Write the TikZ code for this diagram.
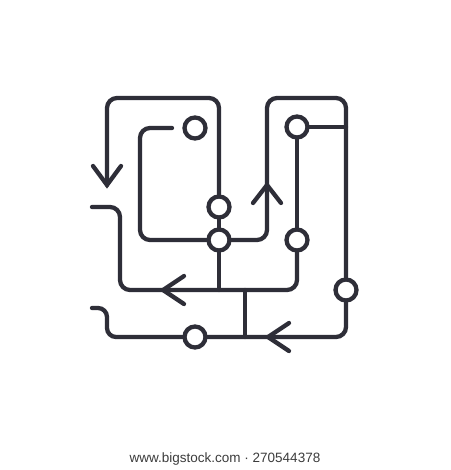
\documentclass[tikz,border=0pt]{standalone}
\usepackage{fontspec}
\newfontfamily\capfont{Liberation Sans}
\definecolor{ink}{RGB}{46,46,56}
\definecolor{captxt}{RGB}{60,60,60}
\begin{document}
\begin{tikzpicture}[x=1pt,y=-1pt,
  wire/.style={line width=4.3pt, draw=ink, line cap=round, line join=round, rounded corners=10pt},
  chev/.style={line width=4.3pt, draw=ink, line cap=round, line join=miter},
  dot/.style={circle, draw=ink, line width=4.3pt, minimum size=21pt, inner sep=0pt, fill=white}]
\useasboundingbox (0,0) rectangle (450,470);
\fill[white] (0,0) rectangle (450,470);
% nodes
\node[dot] (c1) at (195,128) {};
\node[dot] (c2) at (219,207) {};
\node[dot] (c3) at (219,240) {};
\node[dot] (c4) at (297,127) {};
\node[dot] (c5) at (297,240) {};
\node[dot] (c6) at (346,290) {};
\node[dot] (c7) at (195,337) {};
\coordinate (a1) at (107,185);
\coordinate (a2) at (267,185);
\coordinate (a3) at (163,290);
\coordinate (a4) at (268,337);
\coordinate (i1) at (172,128);
\coordinate (s1) at (245,290);
\coordinate (s2) at (245,337);
% outer left loop
\draw[wire] (c2.north) |- (107,98) -- (a1);
% inner loop
\draw[wire] (i1) -- (140,128) -- (140,240) -- (c3.west);
\draw[wire] (c2.south) -- (c3.north);
% right loop
\draw[wire] (c3.east) -| (267,98) -| (c6.north);
\draw[wire] (c4.east) -- (346,127);
\draw[wire] (c4.south) -- (c5.north);
% middle return
\draw[wire] (c5.south) |- (120,290) -- (120,207) -- (92,207);
\draw[wire] (c3.south) -- (c3.south |- s1);
% bottom return
\draw[wire] (c6.south) |- (c7.east);
\draw[wire, rounded corners=9pt] (c7.west) -- (107,337) -- (107,308) -- (92,308);
\draw[wire] (s1) -- (s2);
% arrow heads
\draw[chev] ([shift={(-14,-19)}]a1) -- (a1) -- ([shift={(14,-19)}]a1);
\draw[chev] ([shift={(-14,18)}]a2) -- (a2) -- ([shift={(14,18)}]a2);
\draw[chev] ([shift={(21,-14)}]a3) -- (a3) -- ([shift={(21,14)}]a3);
\draw[chev] ([shift={(21,-14)}]a4) -- (a4) -- ([shift={(21,14)}]a4);
% caption
\node[font=\capfont\fontsize{13.5}{16}\selectfont, text=captxt, inner sep=0pt] (cap) at (225,459) {www.bigstock.com · 270544378};
\end{tikzpicture}
\end{document}
